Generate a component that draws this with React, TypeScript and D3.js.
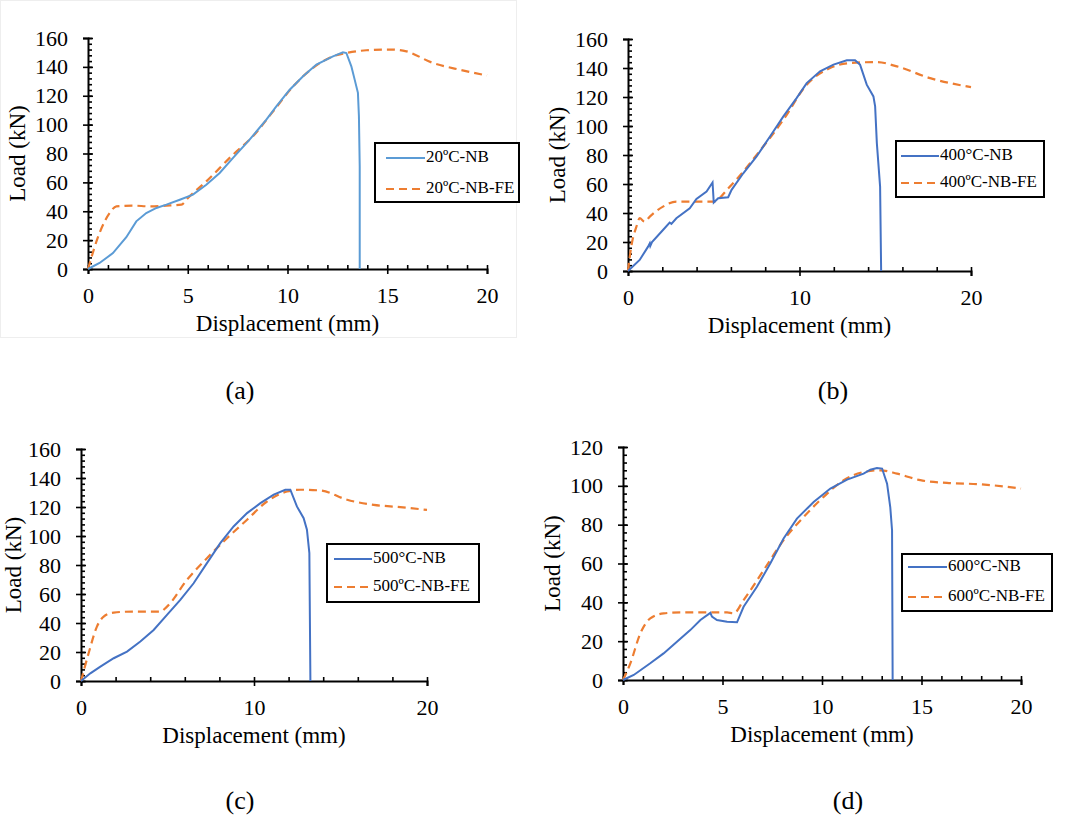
import React, { useEffect, useRef } from "react";
import * as d3 from "d3";

// (a) 20ºC test + FE
const nb20X = [0, 0.58, 1.25, 1.92, 2.42, 2.92, 3.43, 3.93, 4.6, 5.26, 5.93, 6.6, 7.27, 8.1, 8.94, 9.44, 10.1, 10.78, 11.45, 12.28, 12.78, 12.95, 13.2, 13.37, 13.53, 13.58, 13.62, 13.62];
const nb20Y = [0, 4.2, 11, 22, 33, 38.8, 42.3, 44.6, 48, 51.5, 58.4, 66.5, 77, 89.6, 103.5, 112.7, 124, 133.5, 141.6, 147.3, 150.1, 149.6, 140.4, 131, 122, 105.8, 71, 0];
const fe20X = [0, 0.58, 1.09, 1.42, 2.26, 3.09, 3.93, 4.68, 5.01, 5.93, 7.27, 8.27, 9.27, 10.28, 11.28, 12.28, 12.95, 13.95, 15.12, 15.79, 17.3, 18.63, 20];
const fe20Y = [0, 25, 38.8, 43.4, 43.9, 43.4, 43.9, 44.6, 49.2, 60.7, 79.2, 92, 109, 126.4, 139.3, 147.3, 149.6, 151.5, 152, 151.3, 142.7, 138, 134];

// (b) 400ºC
const nb400X = [0, 0.68, 1.17, 1.27, 1.3, 1.4, 2.04, 2.43, 2.53, 2.82, 3.6, 3.99, 4.58, 4.93, 5.0, 5.26, 5.84, 6.04, 6.72, 7.5, 8.28, 9.06, 9.83, 10.42, 11.2, 11.98, 12.76, 13.24, 13.53, 13.92, 14.31, 14.41, 14.51, 14.7, 14.76];
const nb400Y = [0, 7.6, 16.8, 19.1, 17.3, 20, 28.3, 33.4, 32.5, 36.4, 43.3, 49.7, 54.8, 61, 47.2, 50.2, 50.9, 56, 67.4, 79, 92.8, 106.6, 119.2, 129.6, 137.7, 142.3, 145.3, 145.3, 142.3, 128.5, 120.4, 113.5, 88.2, 58.2, 0];
const fe400X = [0, 0.19, 0.49, 0.68, 0.97, 1.27, 2.04, 2.82, 3.99, 4.97, 5.94, 7.5, 9.06, 10.42, 11.78, 12.95, 14.51, 15.68, 17.62, 20];
const fe400Y = [0, 16.8, 30.6, 36.4, 34, 37.5, 44.4, 47.9, 47.9, 47.9, 58.2, 80.1, 104.3, 128.5, 140, 143.4, 144.1, 141.1, 133, 126.8];

// (c) 500ºC
const nb500X = [0, 0.54, 1.12, 1.89, 2.66, 3.43, 4.2, 4.97, 5.74, 6.51, 7.28, 8.05, 8.82, 9.6, 10.37, 11.14, 11.81, 12.1, 12.48, 12.87, 13.06, 13.2, 13.26];
const nb500Y = [0, 5.3, 9.9, 15.7, 20.3, 27.2, 35.2, 45.6, 55.9, 67.4, 81.3, 95.1, 106.6, 115.8, 122.7, 128.5, 131.9, 131.9, 120.4, 112.3, 104.3, 88.2, 0];
const fe500X = [0, 0.44, 0.92, 1.31, 1.89, 3.04, 4.59, 4.97, 6.13, 7.28, 8.44, 9.6, 10.75, 11.91, 12.68, 13.84, 15.38, 16.92, 18.46, 20];
const fe500Y = [0, 19.1, 37.5, 44.4, 47.2, 47.9, 47.9, 51.3, 69.8, 84.7, 98.5, 111.2, 123.8, 130.7, 131.9, 131.4, 125, 121.5, 119.9, 118];

// (d) 600ºC
const nb600X = [0, 0.54, 1.37, 2.04, 2.71, 3.38, 3.89, 4.39, 4.47, 4.72, 5.23, 5.73, 6.06, 6.73, 7.4, 8.07, 8.74, 9.58, 10.42, 11.26, 12.09, 12.43, 12.76, 13.02, 13.27, 13.43, 13.52, 13.55];
const nb600Y = [0, 2.6, 8.6, 13.7, 19.7, 25.7, 30.9, 34.6, 32.6, 30.9, 30, 29.7, 37.7, 48, 60, 72.9, 83.1, 91.7, 98.6, 103.2, 106.3, 108.3, 109.2, 108.9, 101.1, 89.1, 77.1, 0];
const fe600X = [0, 0.37, 0.87, 1.37, 2.04, 2.88, 4.39, 5.23, 5.56, 6.06, 7.07, 8.07, 9.08, 10.08, 11.09, 12.09, 12.93, 13.77, 14.94, 16.28, 17.96, 20];
const fe600Y = [0, 8.6, 24, 31.7, 34.3, 34.8, 34.8, 34.8, 34.3, 41.1, 56.6, 72, 84, 94.3, 102.9, 107.1, 108, 106.3, 102.9, 101.5, 100.8, 98.6];

const xTicksFine = [0, 5, 10, 15, 20];
const xTicksCoarse = [0, 10, 20];
const captions = ["(a)", "(b)", "(c)", "(d)"];

const FONT = "'Liberation Serif', 'Times New Roman', serif";
const ORANGE = "#ED7D31";

const panels = [
  { x0: 88, x1: 487, yTop: 38, yBot: 269, yMax: 160, xMajor: xTicksFine, xMinor: 1, color: "#5B9BD5", titleOff: 68,
    nb: [nb20X, nb20Y], fe: [fe20X, fe20Y], nbLabel: "20ºC-NB", feLabel: "20ºC-NB-FE",
    legend: { x: 375, y: 143, w: 144, h: 59, lx0: 386, lx1: 425, r0: 158, r1: 189 },
    cap: { x: 240, y: 393 } },
  { x0: 628, x1: 971, yTop: 39, yBot: 271, yMax: 160, xMajor: xTicksCoarse, xMinor: 2, color: "#4472C4", titleOff: 68,
    nb: [nb400X, nb400Y], fe: [fe400X, fe400Y], nbLabel: "400°C-NB", feLabel: "400ºC-NB-FE",
    legend: { x: 896, y: 141, w: 148, h: 56, lx0: 901, lx1: 939, r0: 156, r1: 183 },
    cap: { x: 833, y: 393 } },
  { x0: 81, x1: 427, yTop: 449, yBot: 681, yMax: 160, xMajor: xTicksCoarse, xMinor: 2, color: "#4472C4", titleOff: 65,
    nb: [nb500X, nb500Y], fe: [fe500X, fe500Y], nbLabel: "500°C-NB", feLabel: "500ºC-NB-FE",
    legend: { x: 327, y: 544, w: 152, h: 58, lx0: 334, lx1: 372, r0: 559, r1: 587 },
    cap: { x: 240, y: 803 } },
  { x0: 623, x1: 1021, yTop: 447, yBot: 680, yMax: 120, xMajor: xTicksFine, xMinor: 1, color: "#4472C4", titleOff: 68,
    nb: [nb600X, nb600Y], fe: [fe600X, fe600Y], nbLabel: "600°C-NB", feLabel: "600ºC-NB-FE",
    legend: { x: 902, y: 554, w: 150, h: 57, lx0: 908, lx1: 947, r0: 567, r1: 597 },
    cap: { x: 848, y: 803 } },
];

const App = () => {
  const ref = useRef<SVGSVGElement>(null);

  useEffect(() => {
    const svg = d3.select(ref.current);
    svg.selectAll("*").remove();

    // faint frame around panel (a) as in the source figure
    svg.append("rect").attr("x", 0.5).attr("y", 0.5).attr("width", 516).attr("height", 337)
      .attr("fill", "none").attr("stroke", "#eeeeee");

    panels.forEach((p, i) => {
      const x = d3.scaleLinear().domain([0, 20]).range([p.x0, p.x1]);
      const y = d3.scaleLinear().domain([0, p.yMax]).range([p.yBot, p.yTop]);
      const g = svg.append("g");

      // minor y ticks (inside)
      const yMinor = d3.range(0, p.yMax + 0.1, 4);
      g.append("g").attr("transform", `translate(${p.x0},0)`)
        .call(d3.axisRight(y).tickValues(yMinor).tickSize(4).tickFormat(() => ""))
        .call((a) => a.select(".domain").remove());
      // major y ticks, crossing the axis
      g.append("g").attr("transform", `translate(${p.x0},0)`)
        .call(d3.axisRight(y).tickValues(d3.range(0, p.yMax + 1, 20)).tickSize(5).tickFormat(() => ""))
        .call((a) => a.select(".domain").remove());
      g.append("g").attr("transform", `translate(${p.x0},0)`)
        .call(d3.axisLeft(y).tickValues(d3.range(0, p.yMax + 1, 20)).tickSize(5).tickPadding(15).tickFormat(d3.format("d")))
        .call((a) => a.select(".domain").attr("stroke-width", 2));

      // x axis
      const xMinor = d3.range(0, 20.01, p.xMinor);
      g.append("g").attr("transform", `translate(0,${p.yBot})`)
        .call(d3.axisTop(x).tickValues(xMinor).tickSize(4).tickFormat(() => ""))
        .call((a) => a.select(".domain").remove());
      g.append("g").attr("transform", `translate(0,${p.yBot})`)
        .call(d3.axisBottom(x).tickValues(p.xMajor).tickSize(5).tickPadding(13).tickFormat(d3.format("d")))
        .call((a) => a.select(".domain").attr("stroke-width", 2));

      g.selectAll(".tick line").attr("stroke", "#000").attr("stroke-width", 1.6);
      g.selectAll("text").style("font-family", FONT).style("font-size", "22px").attr("fill", "#000");

      // axis titles
      g.append("text").attr("x", (p.x0 + p.x1) / 2).attr("y", p.yBot + 62)
        .attr("text-anchor", "middle").style("font-family", FONT).style("font-size", "23px")
        .text("Displacement (mm)");
      g.append("text")
        .attr("transform", `translate(${p.x0 - p.titleOff},${(p.yTop + p.yBot) / 2}) rotate(-90)`)
        .attr("text-anchor", "middle").attr("dominant-baseline", "middle")
        .style("font-family", FONT).style("font-size", "23px").text("Load (kN)");

      // curves
      const line = d3.line<number>().x((d) => x(d[0])).y((d) => y(d[1]));
      const nbPts = p.nb[0].map((v, k) => [v, p.nb[1][k]]);
      const fePts = p.fe[0].map((v, k) => [v, p.fe[1][k]]);
      g.append("path").attr("d", line.curve(d3.curveMonotoneX)(fePts as any))
        .attr("fill", "none").attr("stroke", ORANGE).attr("stroke-width", 2.2)
        .attr("stroke-dasharray", "8,5");
      g.append("path").attr("d", line.curve(d3.curveLinear)(nbPts as any))
        .attr("fill", "none").attr("stroke", p.color).attr("stroke-width", 2);

      // legend
      const L = p.legend;
      g.append("rect").attr("x", L.x).attr("y", L.y).attr("width", L.w).attr("height", L.h)
        .attr("fill", "#fff").attr("stroke", "#000").attr("stroke-width", 2);
      g.append("line").attr("x1", L.lx0).attr("x2", L.lx1).attr("y1", L.r0).attr("y2", L.r0)
        .attr("stroke", p.color).attr("stroke-width", 2);
      g.append("line").attr("x1", L.lx0).attr("x2", L.lx1).attr("y1", L.r1).attr("y2", L.r1)
        .attr("stroke", ORANGE).attr("stroke-width", 2.2).attr("stroke-dasharray", "8,5");
      [p.nbLabel, p.feLabel].forEach((t, k) => {
        g.append("text").attr("x", L.lx1 + 1).attr("y", k === 0 ? L.r0 : L.r1)
          .attr("dominant-baseline", "middle").style("font-family", FONT).style("font-size", "17px")
          .text(t);
      });

      // caption
      g.append("text").attr("x", p.cap.x).attr("y", p.cap.y).attr("text-anchor", "middle")
        .attr("dominant-baseline", "middle").style("font-family", FONT).style("font-size", "26px")
        .text(captions[i]);
    });
  }, []);

  return (
    <svg ref={ref} width={1065} height={831}
      style={{ position: "absolute", left: 0, top: 0, background: "#fff" }} />
  );
};

export default App;
